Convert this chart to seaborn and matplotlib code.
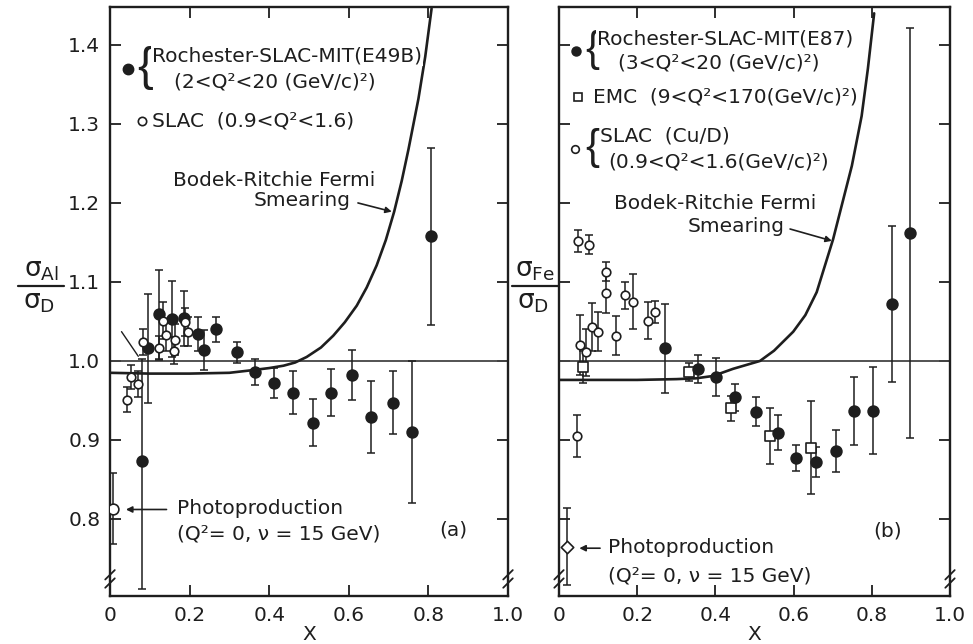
import numpy as np
import pandas as pd
import matplotlib
matplotlib.use("Agg")
import matplotlib.pyplot as plt
from matplotlib.lines import Line2D
import seaborn as sns

# ---------------- data: sigma_Al / sigma_D (panel a) ----------------
e49b_x = [0.080, 0.095, 0.124, 0.157, 0.186, 0.222, 0.237, 0.266, 0.318, 0.364,
          0.412, 0.461, 0.509, 0.555, 0.607, 0.656, 0.710, 0.758, 0.807]
e49b_y = [0.873, 1.016, 1.059, 1.053, 1.054, 1.034, 1.014, 1.040, 1.011, 0.986,
          0.972, 0.960, 0.922, 0.960, 0.982, 0.929, 0.947, 0.910, 1.158]
e49b_err_lo = [0.162, 0.069, 0.056, 0.048, 0.035, 0.022, 0.025, 0.016, 0.013, 0.017,
               0.019, 0.027, 0.030, 0.030, 0.032, 0.045, 0.040, 0.090, 0.112]
e49b_err_hi = [0.130, 0.069, 0.056, 0.048, 0.035, 0.022, 0.025, 0.016, 0.013, 0.017,
               0.019, 0.027, 0.030, 0.030, 0.032, 0.045, 0.040, 0.090, 0.112]

slac_al_x = [0.042, 0.054, 0.071, 0.084, 0.122, 0.134, 0.141, 0.161, 0.163, 0.188, 0.197]
slac_al_y = [0.951, 0.980, 0.971, 1.024, 1.016, 1.051, 1.033, 1.013, 1.027, 1.049, 1.037]
slac_al_err = [0.016, 0.015, 0.016, 0.017, 0.015, 0.023, 0.020, 0.017, 0.020, 0.018, 0.018]

photo_al_x = [0.008]
photo_al_y = [0.813]
photo_al_err = [0.045]

al_curve_x = [0.0, 0.1, 0.2, 0.3, 0.352, 0.40, 0.436, 0.465, 0.494, 0.53, 0.561,
              0.59, 0.620, 0.645, 0.670, 0.693, 0.714, 0.733, 0.750, 0.775, 0.792, 0.808]
al_curve_y = [0.985, 0.984, 0.984, 0.985, 0.988, 0.991, 0.994, 0.998, 1.005, 1.017, 1.032,
              1.049, 1.070, 1.093, 1.121, 1.153, 1.189, 1.228, 1.268, 1.332, 1.385, 1.446]

# ---------------- data: sigma_Fe / sigma_D (panel b) ----------------
e87_x = [0.271, 0.356, 0.401, 0.450, 0.504, 0.559, 0.605, 0.657, 0.708, 0.755, 0.804, 0.852, 0.898]
e87_y = [1.016, 0.990, 0.980, 0.954, 0.936, 0.909, 0.877, 0.872, 0.886, 0.937, 0.937, 1.072, 1.162]
e87_err = [0.056, 0.018, 0.024, 0.017, 0.018, 0.022, 0.016, 0.019, 0.027, 0.043, 0.055, 0.099, 0.260]

emc_x = [0.062, 0.333, 0.440, 0.540, 0.644]
emc_y = [0.992, 0.986, 0.940, 0.905, 0.890]
emc_err = [0.020, 0.012, 0.016, 0.036, 0.059]

slac_fe_x = [0.045, 0.048, 0.054, 0.068, 0.077, 0.084, 0.101, 0.119, 0.119, 0.146,
             0.169, 0.190, 0.227, 0.246]
slac_fe_y = [0.905, 1.152, 1.020, 1.011, 1.147, 1.043, 1.037, 1.113, 1.086, 1.032,
             1.083, 1.075, 1.051, 1.062]
slac_fe_err = [0.027, 0.014, 0.038, 0.030, 0.012, 0.030, 0.025, 0.012, 0.025, 0.025,
               0.017, 0.035, 0.023, 0.014]

photo_fe_x = [0.020]
photo_fe_y = [0.765]
photo_fe_err = [0.049]

fe_curve_x = [0.0, 0.1, 0.2, 0.3, 0.35, 0.394, 0.445, 0.514, 0.55, 0.599, 0.63,
              0.659, 0.701, 0.749, 0.774, 0.790, 0.806]
fe_curve_y = [0.976, 0.976, 0.976, 0.977, 0.978, 0.981, 0.990, 1.000, 1.013, 1.037, 1.058,
              1.087, 1.154, 1.247, 1.310, 1.370, 1.440]

x_ticks = [0, 0.2, 0.4, 0.6, 0.8, 1.0]
x_tick_labels = ["0", "0.2", "0.4", "0.6", "0.8", "1.0"]
y_ticks = [0.8, 0.9, 1.0, 1.1, 1.2, 1.3, 1.4]
y_tick_labels = ["0.8", "0.9", "1.0", "1.1", "1.2", "1.3", "1.4"]

# ---------------- styling ----------------
sns.set_theme(style="ticks")
plt.rcParams["font.family"] = ["DejaVu Sans"]
plt.rcParams["mathtext.fontset"] = "dejavusans"
INK = "#1e1e1e"
FS = 14.5

fig = plt.figure(figsize=(9.73, 6.44), dpi=100)
W, H = 973, 644
ax_a = fig.add_axes([110 / W, 1 - 596 / H, (508 - 110) / W, (596 - 7) / H])
ax_b = fig.add_axes([559 / W, 1 - 596 / H, (950 - 559) / W, (596 - 7) / H])


def frame(ax, show_ylabels):
    ax.set_xlim(0, 1.0)
    ax.set_ylim(0.7025, 1.448)
    ax.set_xticks(x_ticks)
    ax.set_xticklabels(x_tick_labels, fontsize=FS, color=INK)
    ax.set_yticks(y_ticks)
    if show_ylabels:
        ax.set_yticklabels(y_tick_labels, fontsize=FS, color=INK)
    else:
        ax.set_yticklabels([])
    ax.tick_params(direction="in", length=8, width=1.3, color=INK,
                   top=True, right=True, pad=7)
    for s in ax.spines.values():
        s.set_linewidth(1.7)
        s.set_color(INK)
    ax.axhline(1.0, color="#444444", lw=1.3, zorder=1)
    # axis-break marks near the bottom of both vertical spines
    for xs in (0.0, 1.0):
        for yb in (0.022, 0.036):
            ax.plot([xs - 0.012, xs + 0.012], [yb - 0.008, yb + 0.008],
                    transform=ax.transAxes, color=INK, lw=1.3, clip_on=False, zorder=6)


def points(ax, x, y, err, marker, filled, ms):
    ax.errorbar(x, y, yerr=err, fmt="none", ecolor=INK, elinewidth=1.1,
                capsize=2.8, capthick=1.1, zorder=3)
    df = pd.DataFrame({"x": x, "y": y})
    sns.scatterplot(data=df, x="x", y="y", ax=ax, marker=marker, s=ms,
                    color=INK if filled else "white", edgecolor=INK,
                    linewidth=1.2, zorder=4, legend=False)


def curve(ax, x, y):
    df = pd.DataFrame({"x": x, "y": y})
    sns.lineplot(data=df, x="x", y="y", ax=ax, color=INK, lw=1.9,
                 sort=False, estimator=None, zorder=2)


def brace(ax, x, y, size):
    ax.text(x, y, "{", fontsize=size, color=INK, va="center", ha="left",
            family="Liberation Sans", zorder=5)


txt_kw = dict(fontsize=FS, color=INK, va="center", zorder=5)
mask = dict(facecolor="white", edgecolor="none", pad=0.6)
arrow = dict(arrowstyle="-|>", color=INK, lw=1.2, mutation_scale=9,
             shrinkA=0, shrinkB=0)

# ---------------- panel (a) ----------------
frame(ax_a, True)
curve(ax_a, al_curve_x, al_curve_y)
points(ax_a, e49b_x, e49b_y, [e49b_err_lo, e49b_err_hi], "o", True, 60)
points(ax_a, slac_al_x, slac_al_y, slac_al_err, "o", False, 38)
points(ax_a, photo_al_x, photo_al_y, photo_al_err, "o", False, 60)

ax_a.plot([0.045], [1.370], "o", color=INK, ms=7.5, zorder=5)
brace(ax_a, 0.068, 1.371, 34)
ax_a.text(0.106, 1.386, "Rochester-SLAC-MIT(E49B)", bbox=mask, **txt_kw)
ax_a.text(0.160, 1.353, "(2<Q²<20 (GeV/c)²)", **txt_kw)
ax_a.plot([0.080], [1.304], "o", mfc="white", mec=INK, mew=1.2, ms=6, zorder=5)
ax_a.text(0.106, 1.304, "SLAC  (0.9<Q²<1.6)", **txt_kw)
ax_a.text(0.412, 1.229, "Bodek-Ritchie Fermi", ha="center", fontsize=FS,
          color=INK, va="center")
ax_a.text(0.482, 1.203, "Smearing", ha="center", fontsize=FS, color=INK, va="center")
ax_a.annotate("", xy=(0.708, 1.189), xytext=(0.623, 1.200), arrowprops=arrow)
ax_a.annotate("", xy=(0.075, 1.003), xytext=(0.025, 1.040),
              arrowprops=dict(arrowstyle="-", color=INK, lw=1.0))
ax_a.text(0.862, 0.786, "(a)", ha="center", fontsize=FS, color=INK, va="center")
ax_a.annotate("", xy=(0.040, 0.812), xytext=(0.142, 0.812), arrowprops=arrow)
ax_a.text(0.168, 0.813, "Photoproduction", **txt_kw)
ax_a.text(0.168, 0.781, "(Q²= 0, ν = 15 GeV)", **txt_kw)

# ---------------- panel (b) ----------------
frame(ax_b, False)
curve(ax_b, fe_curve_x, fe_curve_y)
points(ax_b, slac_fe_x, slac_fe_y, slac_fe_err, "o", False, 38)
points(ax_b, emc_x, emc_y, emc_err, "s", False, 42)
points(ax_b, e87_x, e87_y, e87_err, "o", True, 60)
points(ax_b, photo_fe_x, photo_fe_y, photo_fe_err, "D", False, 40)

ax_b.plot([0.043], [1.392], "o", color=INK, ms=6.5, zorder=5)
brace(ax_b, 0.068, 1.393, 30)
ax_b.text(0.097, 1.408, "Rochester-SLAC-MIT(E87)", bbox=mask, **txt_kw)
ax_b.text(0.151, 1.377, "(3<Q²<20 (GeV/c)²)", bbox=mask, **txt_kw)
ax_b.plot([0.049], [1.334], "s", mfc="white", mec=INK, mew=1.2, ms=6, zorder=5)
ax_b.text(0.087, 1.334, "EMC  (9<Q²<170(GeV/c)²)", bbox=mask, **txt_kw)
ax_b.plot([0.041], [1.268], "o", mfc="white", mec=INK, mew=1.2, ms=5.5, zorder=5)
brace(ax_b, 0.068, 1.270, 30)
ax_b.text(0.105, 1.285, "SLAC  (Cu/D)", **txt_kw)
ax_b.text(0.125, 1.252, "(0.9<Q²<1.6(GeV/c)²)", bbox=mask, **txt_kw)
ax_b.text(0.399, 1.199, "Bodek-Ritchie Fermi", ha="center", fontsize=FS,
          color=INK, va="center")
ax_b.text(0.453, 1.170, "Smearing", ha="center", fontsize=FS, color=INK, va="center")
ax_b.annotate("", xy=(0.698, 1.152), xytext=(0.591, 1.167), arrowprops=arrow)
ax_b.text(0.841, 0.785, "(b)", ha="center", fontsize=FS, color=INK, va="center")
ax_b.annotate("", xy=(0.052, 0.763), xytext=(0.105, 0.763), arrowprops=arrow)
ax_b.text(0.125, 0.764, "Photoproduction", **txt_kw)
ax_b.text(0.125, 0.728, "(Q²= 0, ν = 15 GeV)", **txt_kw)

for ax in (ax_a, ax_b):
    ax.set_xlabel("X", fontsize=FS, color=INK, labelpad=0)
    ax.set_ylabel("")

# fraction-style y labels built from numerator, bar and denominator
def fraction(xc, sub):
    fig.text(xc / W, 1 - 270 / H, "σ$_{\\mathrm{%s}}$" % sub, fontsize=19,
             color=INK, ha="center", va="center")
    fig.add_artist(Line2D([(xc - 23) / W, (xc + 23) / W], [1 - 286 / H, 1 - 286 / H],
                          color=INK, lw=1.6))
    fig.text((xc - 2) / W, 1 - 302 / H, "σ$_{\\mathrm{D}}$", fontsize=19,
             color=INK, ha="center", va="center")


fraction(41, "Al")
fraction(535, "Fe")

fig.savefig("out.png", dpi=100, facecolor="white")
